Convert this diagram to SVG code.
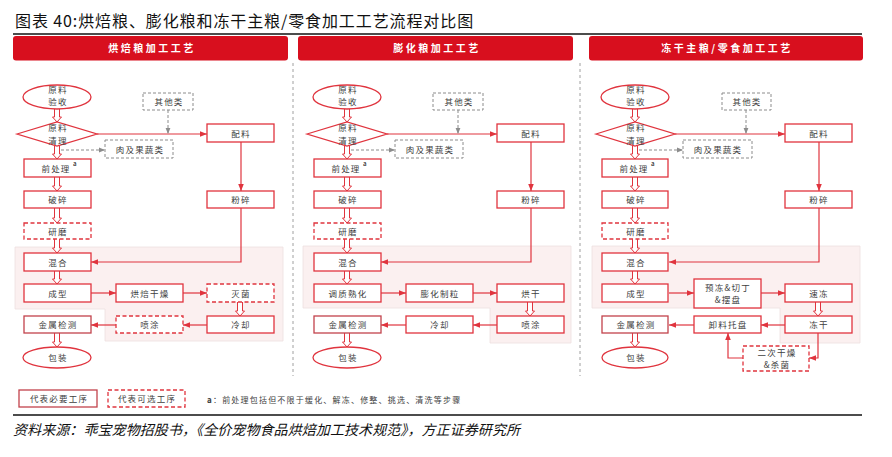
<svg xmlns="http://www.w3.org/2000/svg" width="892" height="457" viewBox="0 0 892 457">
<style>
text{font-family:"Noto Sans CJK SC","Noto Sans",sans-serif;fill:#404040}
.t{font-size:8.5px;letter-spacing:1.2px;text-anchor:middle}
.hd{font-size:10px;font-weight:bold;letter-spacing:2.5px;fill:#fff;text-anchor:middle}
.b{fill:#fff;stroke:#e0343e;stroke-width:1.3}
.bd{fill:#fff;stroke:#e0343e;stroke-width:1.3;stroke-dasharray:4,2.5}
.bk{fill:#fff;stroke:#c2434c;stroke-width:1.3}
.g{fill:#fff;stroke:#8c8c8c;stroke-width:1;stroke-dasharray:3,2}
.ln{fill:none;stroke:#e0343e;stroke-width:1.2}
.gl{fill:none;stroke:#8c8c8c;stroke-width:1;stroke-dasharray:3,2}
.da{fill:#fff;stroke:#e0343e;stroke-width:1}
.bg{fill:#fbf0f0;stroke:#eedfdf;stroke-width:0.8}
.sep{stroke:#a0a0a0;stroke-width:1;stroke-dasharray:3,3}
</style>
<defs>
<marker id="ar" viewBox="0 0 10 10" refX="10" refY="5" markerWidth="7" markerHeight="7" orient="auto" markerUnits="userSpaceOnUse"><path d="M0,1 L10,5 L0,9 z" fill="#e0343e"/></marker>
<marker id="ag" viewBox="0 0 10 10" refX="10" refY="5" markerWidth="6" markerHeight="6" orient="auto" markerUnits="userSpaceOnUse"><path d="M0,1 L10,5 L0,9 z" fill="#8c8c8c"/></marker>
</defs>
<rect width="892" height="457" fill="#fff"/>
<text x="15" y="27" style="font-size:16px;letter-spacing:0.9px;fill:#111">图表 40:烘焙粮、膨化粮和冻干主粮/零食加工工艺流程对比图</text>
<line x1="13" y1="34" x2="862" y2="34" stroke="#111" stroke-width="1.3"/>
<g id="headers">
<rect x="13" y="36" width="275" height="24.5" rx="3" fill="#d80f1e"/>
<text class="hd" x="152" y="52">烘焙粮加工工艺</text>
<rect x="298" y="36" width="275" height="24.5" rx="3" fill="#d80f1e"/>
<text class="hd" x="437" y="52">膨化粮加工工艺</text>
<rect x="589" y="36" width="274" height="24.5" rx="3" fill="#d80f1e"/>
<text class="hd" x="727" y="52">冻干主粮/零食加工工艺</text>
</g>
<line class="sep" x1="293" y1="63" x2="293" y2="376"/>
<line class="sep" x1="580" y1="63" x2="580" y2="376"/>

<!-- Panel 1 -->
<g id="panel1">
<path class="bg" d="M15,247 H283 V341 H105 V309 H15 Z"/>
<g id="p1-connectors">
<path class="ln" d="M97,134 H207" marker-end="url(#ar)"/>
<path class="gl" d="M168,110 V134" marker-end="url(#ag)"/>
<path class="gl" d="M61,150 H105" marker-end="url(#ag)"/>
<path class="ln" d="M241,142 V191" marker-end="url(#ar)"/>
<path class="ln" d="M241,208 V262 H91" marker-end="url(#ar)"/>
<path class="ln" d="M91,293 H116" marker-end="url(#ar)"/>
<path class="ln" d="M183,293 H207" marker-end="url(#ar)"/>
<path class="ln" d="M207,325 H183" marker-end="url(#ar)"/>
<path class="ln" d="M116,325 H91" marker-end="url(#ar)"/>
<path class="da" d="M54.5,109 V117 H52.5 L57,122 L61.5,117 H59.5 V109"/>
<path class="da" d="M54.5,146 V154 H52.5 L57,159 L61.5,154 H59.5 V146"/>
<path class="da" d="M54.5,177 V186 H52.5 L57,191 L61.5,186 H59.5 V177"/>
<path class="da" d="M54.5,208 V218 H52.5 L57,223 L61.5,218 H59.5 V208"/>
<path class="da" d="M54.5,239 V248 H52.5 L57,253 L61.5,248 H59.5 V239"/>
<path class="da" d="M54.5,271 V279 H52.5 L57,284 L61.5,279 H59.5 V271"/>
<path class="da" d="M237.5,302 V311 H235.5 L240,316 L244.5,311 H242.5 V302"/>
<path class="da" d="M54.5,333 V342 H52.5 L57,347 L61.5,342 H59.5 V333"/>
</g>
<g id="p1-ysh"><ellipse class="b" cx="57" cy="97" rx="34" ry="12"/><text class="t" x="58" y="93">原料</text><text class="t" x="58" y="105">验收</text></g>
<g id="p1-qingli"><path class="b" d="M17,134 L57,122 L97,134 L57,146 Z"/><text class="t" x="58" y="131">原料</text><text class="t" x="58" y="144">清理</text></g>
<g id="p1-qita"><rect class="g" x="143" y="93" width="50" height="17"/><text class="t" x="169" y="105">其他类</text></g>
<g id="p1-rou"><rect class="g" x="105" y="140" width="68" height="18"/><text class="t" x="140" y="152.5">肉及果蔬类</text></g>
<g id="p1-peiliao"><rect class="b" x="207" y="124" width="67" height="18"/><text class="t" x="241" y="136.5">配料</text></g>
<g id="p1-qian"><rect class="b" x="24" y="159" width="67" height="18"/><text class="t" x="56" y="171.5">前处理</text><text x="73" y="166" style="font-size:6px;font-weight:bold">a</text></g>
<g id="p1-posui"><rect class="b" x="24" y="191" width="67" height="17"/><text class="t" x="58" y="203">破碎</text></g>
<g id="p1-fensui"><rect class="b" x="207" y="191" width="67" height="17"/><text class="t" x="241" y="203">粉碎</text></g>
<g id="p1-yanmo"><rect class="bd" x="24" y="223" width="67" height="16"/><text class="t" x="58" y="234.5">研磨</text></g>
<g id="p1-hunhe"><rect class="b" x="24" y="253" width="67" height="18"/><text class="t" x="58" y="265.5">混合</text></g>
<g id="p1-chengxing"><rect class="b" x="24" y="284" width="67" height="18"/><text class="t" x="58" y="296.5">成型</text></g>
<g id="p1-hongbei"><rect class="b" x="116" y="284" width="67" height="18"/><text class="t" x="150" y="296.5">烘焙干燥</text></g>
<g id="p1-mieju"><rect class="bd" x="207" y="284" width="67" height="18"/><text class="t" x="241" y="296.5">灭菌</text></g>
<g id="p1-lengque"><rect class="b" x="207" y="316" width="67" height="17"/><text class="t" x="241" y="328">冷却</text></g>
<g id="p1-pentu"><rect class="bd" x="116" y="316" width="67" height="17"/><text class="t" x="150" y="328">喷涂</text></g>
<g id="p1-jinshu"><rect class="bk" x="24" y="316" width="67" height="17"/><text class="t" x="58" y="328">金属检测</text></g>
<g id="p1-baozhuang"><ellipse class="b" cx="57" cy="357.5" rx="34" ry="10.5"/><text class="t" x="58" y="361">包装</text></g>
</g>

<!-- Panel 2 -->
<g id="panel2" transform="translate(290,0)">
<path class="bg" d="M13,246 H281 V343 H200 V308 H13 Z"/>
<g id="p2-connectors">
<path class="ln" d="M97,134 H207" marker-end="url(#ar)"/>
<path class="gl" d="M168,110 V134" marker-end="url(#ag)"/>
<path class="gl" d="M61,150 H105" marker-end="url(#ag)"/>
<path class="ln" d="M241,142 V191" marker-end="url(#ar)"/>
<path class="ln" d="M241,208 V262 H91" marker-end="url(#ar)"/>
<path class="ln" d="M91,293 H116" marker-end="url(#ar)"/>
<path class="ln" d="M183,293 H207" marker-end="url(#ar)"/>
<path class="ln" d="M207,325 H183" marker-end="url(#ar)"/>
<path class="ln" d="M116,325 H91" marker-end="url(#ar)"/>
<path class="da" d="M54.5,109 V117 H52.5 L57,122 L61.5,117 H59.5 V109"/>
<path class="da" d="M54.5,146 V154 H52.5 L57,159 L61.5,154 H59.5 V146"/>
<path class="da" d="M54.5,177 V186 H52.5 L57,191 L61.5,186 H59.5 V177"/>
<path class="da" d="M54.5,208 V218 H52.5 L57,223 L61.5,218 H59.5 V208"/>
<path class="da" d="M54.5,239 V248 H52.5 L57,253 L61.5,248 H59.5 V239"/>
<path class="da" d="M54.5,271 V279 H52.5 L57,284 L61.5,279 H59.5 V271"/>
<path class="da" d="M237.5,302 V311 H235.5 L240,316 L244.5,311 H242.5 V302"/>
<path class="da" d="M54.5,333 V342 H52.5 L57,347 L61.5,342 H59.5 V333"/>
</g>
<g id="p2-ysh"><ellipse class="b" cx="57" cy="97" rx="34" ry="12"/><text class="t" x="58" y="93">原料</text><text class="t" x="58" y="105">验收</text></g>
<g id="p2-qingli"><path class="b" d="M17,134 L57,122 L97,134 L57,146 Z"/><text class="t" x="58" y="131">原料</text><text class="t" x="58" y="144">清理</text></g>
<g id="p2-qita"><rect class="g" x="143" y="93" width="50" height="17"/><text class="t" x="169" y="105">其他类</text></g>
<g id="p2-rou"><rect class="g" x="105" y="140" width="68" height="18"/><text class="t" x="140" y="152.5">肉及果蔬类</text></g>
<g id="p2-peiliao"><rect class="b" x="207" y="124" width="67" height="18"/><text class="t" x="241" y="136.5">配料</text></g>
<g id="p2-qian"><rect class="b" x="24" y="159" width="67" height="18"/><text class="t" x="56" y="171.5">前处理</text><text x="73" y="166" style="font-size:6px;font-weight:bold">a</text></g>
<g id="p2-posui"><rect class="b" x="24" y="191" width="67" height="17"/><text class="t" x="58" y="203">破碎</text></g>
<g id="p2-fensui"><rect class="b" x="207" y="191" width="67" height="17"/><text class="t" x="241" y="203">粉碎</text></g>
<g id="p2-yanmo"><rect class="bd" x="24" y="223" width="67" height="16"/><text class="t" x="58" y="234.5">研磨</text></g>
<g id="p2-hunhe"><rect class="b" x="24" y="253" width="67" height="18"/><text class="t" x="58" y="265.5">混合</text></g>
<g id="p2-tiaozhi"><rect class="b" x="24" y="284" width="67" height="18"/><text class="t" x="58" y="296.5">调质熟化</text></g>
<g id="p2-penghua"><rect class="b" x="116" y="284" width="67" height="18"/><text class="t" x="150" y="296.5">膨化制粒</text></g>
<g id="p2-honggan"><rect class="b" x="207" y="284" width="67" height="18"/><text class="t" x="241" y="296.5">烘干</text></g>
<g id="p2-pentu"><rect class="b" x="207" y="316" width="67" height="17"/><text class="t" x="241" y="328">喷涂</text></g>
<g id="p2-lengque"><rect class="b" x="116" y="316" width="67" height="17"/><text class="t" x="150" y="328">冷却</text></g>
<g id="p2-jinshu"><rect class="bk" x="24" y="316" width="67" height="17"/><text class="t" x="58" y="328">金属检测</text></g>
<g id="p2-baozhuang"><ellipse class="b" cx="57" cy="357.5" rx="34" ry="10.5"/><text class="t" x="58" y="361">包装</text></g>
</g>

<!-- Panel 3 -->
<g id="panel3" transform="translate(578,0)">
<path class="bg" d="M14,246 H282 V343 H202 V308 H14 Z"/>
<g id="p3-connectors">
<path class="ln" d="M97,134 H207" marker-end="url(#ar)"/>
<path class="gl" d="M168,110 V134" marker-end="url(#ag)"/>
<path class="gl" d="M61,150 H105" marker-end="url(#ag)"/>
<path class="ln" d="M241,142 V191" marker-end="url(#ar)"/>
<path class="ln" d="M241,208 V262 H91" marker-end="url(#ar)"/>
<path class="ln" d="M91,293 H116" marker-end="url(#ar)"/>
<path class="ln" d="M183,293 H207" marker-end="url(#ar)"/>
<path class="ln" d="M207,325 H183" marker-end="url(#ar)"/>
<path class="ln" d="M116,325 H91" marker-end="url(#ar)"/>
<path class="ln" d="M240,333 V358 H231" marker-end="url(#ar)"/>
<path class="ln" d="M165,358 H150 V333" marker-end="url(#ar)"/>
<path class="da" d="M54.5,109 V117 H52.5 L57,122 L61.5,117 H59.5 V109"/>
<path class="da" d="M54.5,146 V154 H52.5 L57,159 L61.5,154 H59.5 V146"/>
<path class="da" d="M54.5,177 V186 H52.5 L57,191 L61.5,186 H59.5 V177"/>
<path class="da" d="M54.5,208 V218 H52.5 L57,223 L61.5,218 H59.5 V208"/>
<path class="da" d="M54.5,239 V248 H52.5 L57,253 L61.5,248 H59.5 V239"/>
<path class="da" d="M54.5,271 V279 H52.5 L57,284 L61.5,279 H59.5 V271"/>
<path class="da" d="M237.5,302 V311 H235.5 L240,316 L244.5,311 H242.5 V302"/>
<path class="da" d="M54.5,333 V342 H52.5 L57,347 L61.5,342 H59.5 V333"/>
</g>
<g id="p3-ysh"><ellipse class="b" cx="57" cy="97" rx="34" ry="12"/><text class="t" x="58" y="93">原料</text><text class="t" x="58" y="105">验收</text></g>
<g id="p3-qingli"><path class="b" d="M18,134 L57,122 L97,134 L57,146 Z"/><text class="t" x="58" y="131">原料</text><text class="t" x="58" y="144">清理</text></g>
<g id="p3-qita"><rect class="g" x="144" y="93" width="49" height="17"/><text class="t" x="169" y="105">其他类</text></g>
<g id="p3-rou"><rect class="g" x="105" y="140" width="69" height="18"/><text class="t" x="140" y="152.5">肉及果蔬类</text></g>
<g id="p3-peiliao"><rect class="b" x="207" y="124" width="67" height="18"/><text class="t" x="241" y="136.5">配料</text></g>
<g id="p3-qian"><rect class="b" x="24" y="159" width="66" height="18"/><text class="t" x="56" y="171.5">前处理</text><text x="73" y="166" style="font-size:6px;font-weight:bold">a</text></g>
<g id="p3-posui"><rect class="b" x="24" y="191" width="66" height="17"/><text class="t" x="58" y="203">破碎</text></g>
<g id="p3-fensui"><rect class="b" x="207" y="191" width="67" height="17"/><text class="t" x="241" y="203">粉碎</text></g>
<g id="p3-yanmo"><rect class="bd" x="24" y="223" width="66" height="16"/><text class="t" x="58" y="234.5">研磨</text></g>
<g id="p3-hunhe"><rect class="b" x="24" y="253" width="66" height="18"/><text class="t" x="58" y="265.5">混合</text></g>
<g id="p3-chengxing"><rect class="b" x="24" y="284" width="66" height="18"/><text class="t" x="58" y="296.5">成型</text></g>
<g id="p3-yudong"><rect class="b" x="116" y="279" width="67" height="29"/><text class="t" x="150" y="291">预冻&amp;切丁</text><text class="t" x="150" y="303">&amp;摆盘</text></g>
<g id="p3-sudong"><rect class="b" x="207" y="284" width="67" height="18"/><text class="t" x="241" y="296.5">速冻</text></g>
<g id="p3-donggan"><rect class="b" x="207" y="316" width="67" height="17"/><text class="t" x="241" y="328">冻干</text></g>
<g id="p3-xieliao"><rect class="b" x="116" y="316" width="67" height="17"/><text class="t" x="150" y="328">卸料托盘</text></g>
<g id="p3-jinshu"><rect class="bk" x="24" y="316" width="66" height="17"/><text class="t" x="58" y="328">金属检测</text></g>
<g id="p3-baozhuang"><ellipse class="b" cx="57" cy="357.5" rx="33" ry="10.5"/><text class="t" x="58" y="361">包装</text></g>
<g id="p3-erci"><rect class="bd" x="165" y="346" width="66" height="25"/><text class="t" x="199" y="356">二次干燥</text><text class="t" x="199" y="368">&amp;杀菌</text></g>
</g>

<g id="legend">
<rect class="bk" x="19" y="390" width="78" height="17"/><text class="t" x="59" y="402">代表必要工序</text>
<rect class="bd" x="108" y="390" width="77" height="17"/><text class="t" x="147" y="402">代表可选工序</text>
<text x="207" y="402.5" style="font-size:8px;letter-spacing:1.2px"><tspan font-weight="bold">a</tspan>：前处理包括但不限于缓化、解冻、修整、挑选、清洗等步骤</text>
</g>
<line x1="13" y1="415" x2="862" y2="415" stroke="#111" stroke-width="1.3"/>
<text x="13" y="435" textLength="507" style="font-size:14px;font-style:italic;fill:#111">资料来源：乖宝宠物招股书，《全价宠物食品烘焙加工技术规范》，方正证券研究所</text>
</svg>
